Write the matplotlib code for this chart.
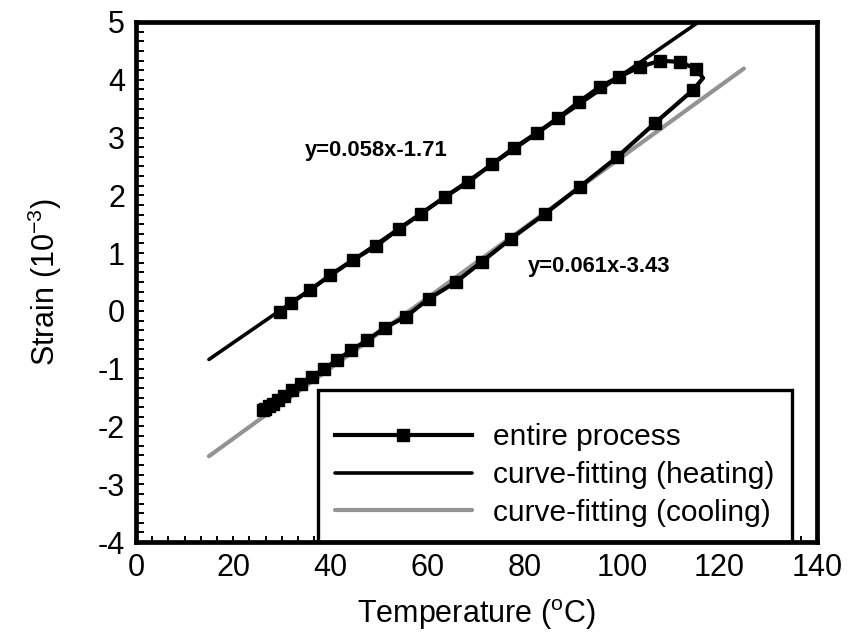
import matplotlib
matplotlib.use("Agg")
import matplotlib.pyplot as plt
from matplotlib.patches import Rectangle
from matplotlib.ticker import MultipleLocator

plt.rcParams['font.family'] = ['Liberation Sans', 'DejaVu Sans']
plt.rcParams['mathtext.fontset'] = 'custom'
plt.rcParams['mathtext.rm'] = 'Liberation Sans'
plt.rcParams['axes.unicode_minus'] = False

# ---- data ----
process_T = [29.6, 31.9, 35.8, 39.9, 44.6, 49.3, 54.1, 58.6, 63.5, 68.3, 73.2, 77.7,
             82.4, 86.8, 91.1, 95.4, 99.3, 103.6, 107.7, 111.8, 115.1, 116.6, 114.5,
             106.7, 98.9, 91.3, 84.1, 77.1, 71.1, 65.8, 60.2, 55.5, 51.2, 47.6, 44.3,
             41.3, 38.6, 36.2, 34.0, 32.1, 30.5, 29.2, 28.1, 27.3, 26.6, 26.1]
process_S = [-0.02, 0.14, 0.36, 0.62, 0.88, 1.12, 1.42, 1.68, 1.97, 2.23, 2.54, 2.82,
             3.08, 3.34, 3.62, 3.88, 4.05, 4.22, 4.33, 4.31, 4.19, 4.03, 3.82,
             3.25, 2.66, 2.15, 1.68, 1.25, 0.85, 0.50, 0.21, -0.10, -0.29, -0.50, -0.68,
             -0.85, -1.01, -1.14, -1.27, -1.37, -1.47, -1.54, -1.61, -1.65, -1.69, -1.71]
unmarked_index = [21]

heat_fit_T = [15.0, 115.7]
heat_slope, heat_icpt = 0.058, -1.71
cool_fit_T = [15.0, 125.0]
cool_slope, cool_icpt = 0.061, -3.43

labels = ['entire process', 'curve-fitting (heating)', 'curve-fitting (cooling)']
eq_heat = 'y=0.058x-1.71'
eq_cool = 'y=0.061x-3.43'

x_ticks = [0, 20, 40, 60, 80, 100, 120, 140]
y_ticks = [-4, -3, -2, -1, 0, 1, 2, 3, 4, 5]

# ---- figure ----
fig = plt.figure(figsize=(8.5, 6.41), dpi=100)
ax = fig.add_axes([0.16, 0.1544, 0.801, 0.8113])

gray = '#939393'
mark_idx = [i for i in range(len(process_T)) if i not in unmarked_index]

l1, = ax.plot(process_T, process_S, color='black', lw=3.0, marker='s', ms=8,
              markevery=mark_idx, zorder=3, solid_joinstyle='round')
l2, = ax.plot(heat_fit_T, [heat_slope * t + heat_icpt for t in heat_fit_T],
              color='black', lw=2.6, zorder=2, solid_capstyle='round')
l3, = ax.plot(cool_fit_T, [cool_slope * t + cool_icpt for t in cool_fit_T],
              color=gray, lw=3.0, zorder=2.6, solid_capstyle='round')

ax.text(34.7, 2.77, eq_heat, fontsize=15.8, fontweight='bold', ha='left', va='center')
ax.text(80.6, 0.76, eq_cool, fontsize=15.8, fontweight='bold', ha='left', va='center')

ax.set_xlim(0, 140)
ax.set_ylim(-4, 5)
ax.set_xticks(x_ticks)
ax.set_yticks(y_ticks)
ax.xaxis.set_minor_locator(MultipleLocator(20 / 6))
ax.yaxis.set_minor_locator(MultipleLocator(1 / 6))
ax.tick_params(axis='x', which='both', direction='in', length=4.5, width=1.4,
               top=False, labelsize=22, pad=8)
ax.tick_params(axis='y', which='both', direction='in', length=5.5, width=1.4,
               right=False, labelsize=22, pad=8)

for s in ax.spines.values():
    s.set_linewidth(3.4)
    s.set_zorder(6)

ax.set_xlabel(r'Temperature ($\mathregular{^{o}}$C)', fontsize=22, labelpad=10)
ax.set_ylabel(r'Strain (10$\mathregular{^{-3}}$)', fontsize=22, labelpad=24)

# legend box
ax.add_patch(Rectangle((37.4, -4.0), 97.5, 2.63, facecolor='white', edgecolor='black',
                       lw=2.4, zorder=4, clip_on=False))
leg = ax.legend([l1, l2, l3], labels, loc='upper left', bbox_to_anchor=(0.292, 0.228),
                bbox_transform=ax.transAxes, frameon=False, fontsize=21.5,
                handlelength=4.6, handletextpad=0.7, labelspacing=0.32,
                borderpad=0, borderaxespad=0, numpoints=1)
leg.set_zorder(5)

fig.savefig('out.png', dpi=100)
